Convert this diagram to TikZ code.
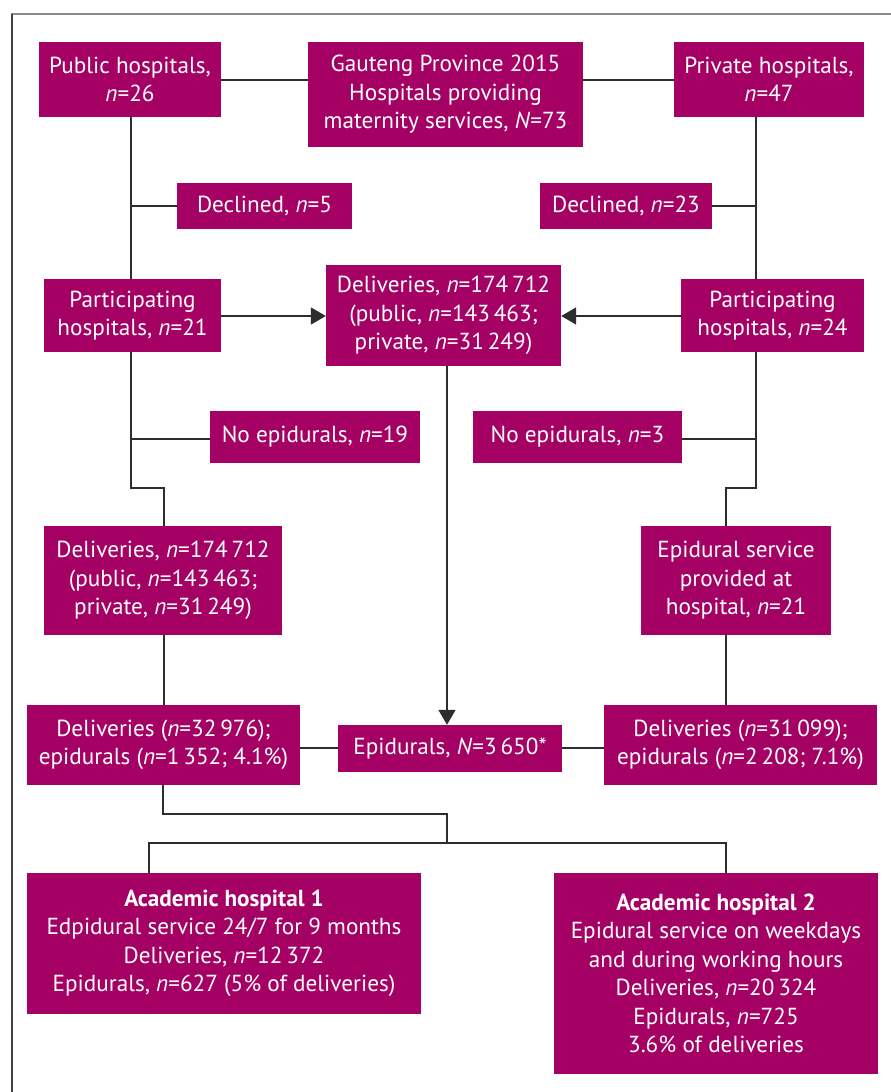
\documentclass[tikz,border=0pt]{standalone}
\usepackage{fontspec}
\setmainfont{PT Sans}
\usetikzlibrary{arrows.meta}
\definecolor{boxmag}{RGB}{165,0,100}
\definecolor{linegray}{RGB}{45,45,45}
\definecolor{framegray}{RGB}{140,140,140}
\pgfdeclarelayer{bg}
\pgfsetlayers{bg,main}
\tikzset{
  box/.style={fill=boxmag, text=white, inner sep=0pt, align=center,
    font=\fontsize{23.2}{28.5}\selectfont},
  conn/.style={draw=linegray, line width=1.6pt},
  arr/.style={conn, -{Triangle[length=15pt,width=17pt]}},
}
\newcommand{\nn}{\textit{n}}
\begin{document}
\begin{tikzpicture}[x=1pt,y=-1pt]
\useasboundingbox (0,0) rectangle (891,1092);
% frame
\draw[framegray, line width=2pt] (11,14) -- (891,14);
\draw[linegray!90, line width=1.4pt] (12,14) -- (12,1092);
% boxes
\node[box, minimum width=182pt, minimum height=75pt] (pub) at (130,79.5) {Public hospitals,\\\nn=26};
\node[box, minimum width=275pt, minimum height=105pt] (gau) at (445.5,94.5) {Gauteng Province 2015\\Hospitals providing\\maternity services, \textit{N}=73};
\node[box, minimum width=190pt, minimum height=75pt] (priv) at (769,79.5) {Private hospitals,\\\nn=47};
\node[box, minimum width=175pt, minimum height=46pt] (dec5) at (264.5,206) {Declined, \nn=5};
\node[box, minimum width=172pt, minimum height=46pt] (dec23) at (626,206) {Declined, \nn=23};
\node[box, minimum width=177pt, minimum height=73pt] (partL) at (132.5,315.5) {Participating\\hospitals, \nn=21};
\node[box, minimum width=235pt, minimum height=101pt] (delC) at (443.5,315.5) {Deliveries, \nn=174\,712\\(public, \nn=143\,463;\\private, \nn=31\,249)};
\node[box, minimum width=183pt, minimum height=73pt] (partR) at (772.5,315.5) {Participating\\hospitals, \nn=24};
\node[box, minimum width=210pt, minimum height=52pt] (noep19) at (315,437) {No epidurals, \nn=19};
\node[box, minimum width=209pt, minimum height=52pt] (noep3) at (577.5,437) {No epidurals, \nn=3};
\node[box, minimum width=238pt, minimum height=109pt] (delL) at (163,580.5) {Deliveries, \nn=174\,712\\(public, \nn=143\,463;\\private, \nn=31\,249)};
\node[box, minimum width=190pt, minimum height=109pt] (epis) at (736,580.5) {Epidural service\\provided at\\hospital, \nn=21};
\node[box, minimum width=273pt, minimum height=80pt] (delL2) at (163.5,745) {Deliveries (\nn=32\,976);\\epidurals (\nn=1\,352; 4.1\%)};
\node[box, minimum width=224pt, minimum height=47pt] (epiN) at (450,748.5) {Epidurals, \textit{N}=3\,650*};
\node[box, minimum width=273pt, minimum height=80pt] (delR2) at (740.5,745) {Deliveries (\nn=31\,099);\\epidurals (\nn=2\,208; 7.1\%)};
\node[box, minimum width=394pt, minimum height=141pt] (ac1) at (224,943.5) {\textbf{Academic hospital 1}\\Edpidural service 24/7 for 9 months\\Deliveries, \nn=12\,372\\Epidurals, \nn=627 (5\% of deliveries)};
\node[box, minimum width=324pt, minimum height=201pt] (ac2) at (716,973.5) {\textbf{Academic hospital 2}\\Epidural service on weekdays\\and during working hours\\Deliveries, \nn=20\,324\\Epidurals, \nn=725\\3.6\% of deliveries};
% junction coordinates
\coordinate (lt) at (131,117);
\coordinate (lb) at (131,488);
\coordinate (ld) at (164,488);
\coordinate (rt) at (756,117);
\coordinate (rb) at (756,488);
\coordinate (rd) at (726,488);
\coordinate (mj) at (447,814);
\coordinate (bl) at (149,843);
\coordinate (br) at (726,843);
\begin{pgfonlayer}{bg}
\draw[conn] (pub.east |- 0,80) -- (gau.west |- 0,80);
\draw[conn] (gau.east |- 0,80) -- (priv.west |- 0,80);
% left spine
\draw[conn] (lt) -- (lb) -- (ld) -- (ld |- delL.north);
\draw[conn] (lt |- dec5.west) -- (dec5.west);
\draw[conn] (lt |- 0,439) -- (noep19.west |- 0,439);
% right spine
\draw[conn] (rt) -- (rb) -- (rd) -- (rd |- epis.north);
\draw[conn] (dec23.east) -- (rt |- dec23.east);
\draw[conn] (noep3.east |- 0,439) -- (rt |- 0,439);
% arrows
\draw[arr] (partL.east |- 0,316) -- (delC.west |- 0,316);
\draw[arr] (partR.west |- 0,316) -- (delC.east |- 0,316);
\draw[arr] (delC.south -| mj) -- (epiN.north -| mj);
% lower
\draw[conn] (delL.south -| ld) -- (delL2.north -| ld);
\draw[conn] (epis.south -| rd) -- (delR2.north -| rd);
\draw[conn] (delL2.east |- 0,748) -- (epiN.west |- 0,748);
\draw[conn] (epiN.east |- 0,748) -- (delR2.west |- 0,748);
\draw[conn] (delL2.south -| 163,0) -- (163,814) -- (mj) -- (mj |- bl);
\draw[conn] (ac1.north -| bl) -- (bl) -- (br) -- (ac2.north -| br);
\end{pgfonlayer}
\end{tikzpicture}
\end{document}
